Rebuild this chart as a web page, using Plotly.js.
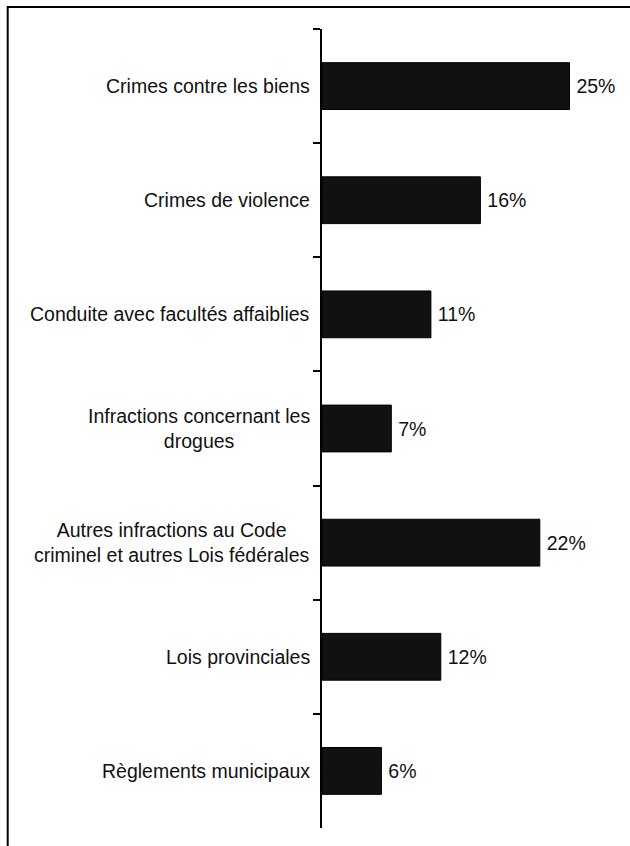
<!DOCTYPE html>
<html>
<head>
<meta charset="utf-8">
<script src="https://cdn.plot.ly/plotly-3.0.1.min.js"></script>
<style>
  html, body { margin: 0; padding: 0; background: #fff; }
  #chart { width: 630px; height: 846px; }
</style>
</head>
<body>
<div id="chart"></div>
<script>
const categories = [
  "Crimes contre les biens",
  "Crimes de violence",
  "Conduite avec facultés affaiblies",
  "Infractions concernant les<br>drogues",
  "Autres infractions au Code<br>criminel et autres Lois fédérales",
  "Lois provinciales",
  "Règlements municipaux"
];
const percentages = [25, 16, 11, 7, 22, 12, 6];

const FONT = "Liberation Sans, Arial, Helvetica, sans-serif";
const FS = 19.5;

const trace = {
  type: "bar",
  orientation: "h",
  y: categories,
  x: percentages,
  marker: { color: "#111111", line: { color: "#000000", width: 1 } },
  texttemplate: "\u2009%{x}%",
  textposition: "outside",
  constraintext: "none",
  cliponaxis: false,
  textfont: { family: FONT, size: FS, color: "#111111" },
  hoverinfo: "skip"
};

const annotations = categories.map(c => ({
  xref: "paper", yref: "y",
  x: 0, y: c,
  xanchor: "right", yanchor: "middle",
  xshift: -10,
  text: c,
  showarrow: false,
  align: "center",
  font: { family: FONT, size: FS, color: "#111111" }
}));

const layout = {
  width: 630, height: 846,
  margin: { l: 322, r: 11, t: 29, b: 18, pad: 0 },
  paper_bgcolor: "#ffffff",
  plot_bgcolor: "#ffffff",
  showlegend: false,
  bargap: 0.59,
  font: { family: FONT, size: FS, color: "#111111" },
  xaxis: {
    range: [0, 30],
    showgrid: false, zeroline: false, showline: false,
    showticklabels: false, ticks: "", fixedrange: true
  },
  yaxis: {
    type: "category",
    autorange: "reversed",
    showgrid: false, zeroline: false,
    showline: true, linecolor: "#000000", linewidth: 2,
    ticks: "outside", tickson: "boundaries", ticklen: 7, tickwidth: 2, tickcolor: "#000000",
    showticklabels: false, fixedrange: true
  },
  annotations: annotations,
  shapes: [{
    type: "rect", xref: "paper", yref: "paper",
    x0: (7.7 - 322) / 297, x1: 1.2,
    y0: -0.2, y1: 1 + (29 - 7) / 799,
    line: { color: "#000000", width: 2 },
    fillcolor: "rgba(0,0,0,0)"
  }]
};

Plotly.newPlot("chart", [trace], layout, { staticPlot: true, displayModeBar: false });
</script>
</body>
</html>
